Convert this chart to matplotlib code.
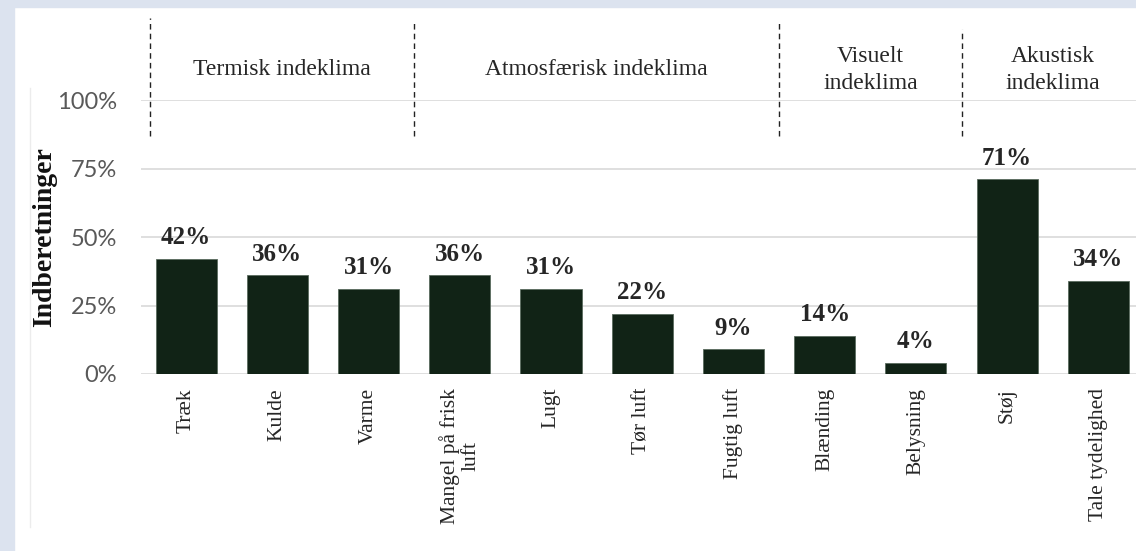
import matplotlib
matplotlib.use('Agg')
import numpy as np
from matplotlib import pyplot as plt
from matplotlib.patches import Rectangle

categories = ['Træk', 'Kulde', 'Varme', 'Mangel på frisk\nluft', 'Lugt', 'Tør luft',
              'Fugtig luft', 'Blænding', 'Belysning', 'Støj', 'Tale tydelighed']
values = [42, 36, 31, 36, 31, 22, 9, 14, 4, 71, 34]
yticks = [0, 25, 50, 75, 100]
group_names = ['Termisk indeklima', 'Atmosfærisk indeklima', 'Visuelt\nindeklima', 'Akustisk\nindeklima']
group_bounds = [(-0.4, 2.5), (2.5, 6.5), (6.5, 8.5), (8.5, 10.5)]

W, H = 1136, 551
serif = 'Liberation Serif'
sans = 'Lato'

def main():
	fig = plt.figure(figsize=(W / 100, H / 100), dpi=100)
	fig.patch.set_facecolor('white')
	# blue-grey frame on the left and top
	bg = '#dce3ef'
	fig.patches.append(Rectangle((0, 0), 14 / W, 1, transform=fig.transFigure, color=bg, zorder=-10))
	fig.patches.append(Rectangle((0, 1 - 7 / H), 1, 7 / H, transform=fig.transFigure, color=bg, zorder=-10))
	fig.add_artist(plt.Line2D([30 / W, 30 / W], [1 - 527 / H, 1 - 88 / H], transform=fig.transFigure,
							  color='#ececec', lw=1))

	x0, x1 = 140.5, 1144.0
	y0, y1 = 374.0, 100.0
	ax = fig.add_axes([x0 / W, 1 - y0 / H, (x1 - x0) / W, (y0 - y1) / H])
	ax.set_facecolor('none')

	x = np.arange(len(categories))
	ax.bar(x, values, width=0.67, color='#112316', edgecolor='#5a6b5e', linewidth=0.6, zorder=3)
	for xi, v in zip(x, values):
		ax.text(xi, v + 3.5, f'{v}%', ha='center', va='bottom', fontsize=18, fontweight='bold',
				family=serif, color='#262626')

	ax.set_xlim(-0.5, len(categories) - 0.5)
	ax.set_ylim(0, 100)
	ax.set_yticks(yticks)
	ax.set_yticklabels([f'{t}%' for t in yticks], fontsize=17, family=sans, color='#595959')
	ax.yaxis.grid(True, color='#d9d9d9', lw=1.2, zorder=0)
	ax.tick_params(axis='y', length=0, pad=17)
	ax.set_xticks(x)
	labels = ax.set_xticklabels(categories, rotation=90, fontsize=15.5, family=serif, color='#262626',
								va='top', ha='center', linespacing=1.1)
	for lb in labels:
		lb.set_multialignment('center')
	ax.tick_params(axis='x', length=0, pad=10)
	for s in ax.spines.values():
		s.set_visible(False)
	ax.set_ylabel('Indberetninger', fontsize=20, fontweight='bold', family=serif, color='#111111',
				  labelpad=0)

	# group separators and titles above the plot
	for (a, b), name in zip(group_bounds, group_names):
		ax.text((a + b) / 2, 111, name, ha='center', va='center', fontsize=17, family=serif,
				color='#262626', linespacing=1.4, clip_on=False)
	for a, top in [(-0.4, 130), (2.5, 128), (6.5, 128), (8.5, 126)]:
		ax.plot([a, a], [87, top], ls=(0, (4, 3)), color='#222222', lw=1, clip_on=False)

	fig.savefig('out.png', dpi=100, facecolor=fig.get_facecolor())

if __name__ == '__main__':
	main()
